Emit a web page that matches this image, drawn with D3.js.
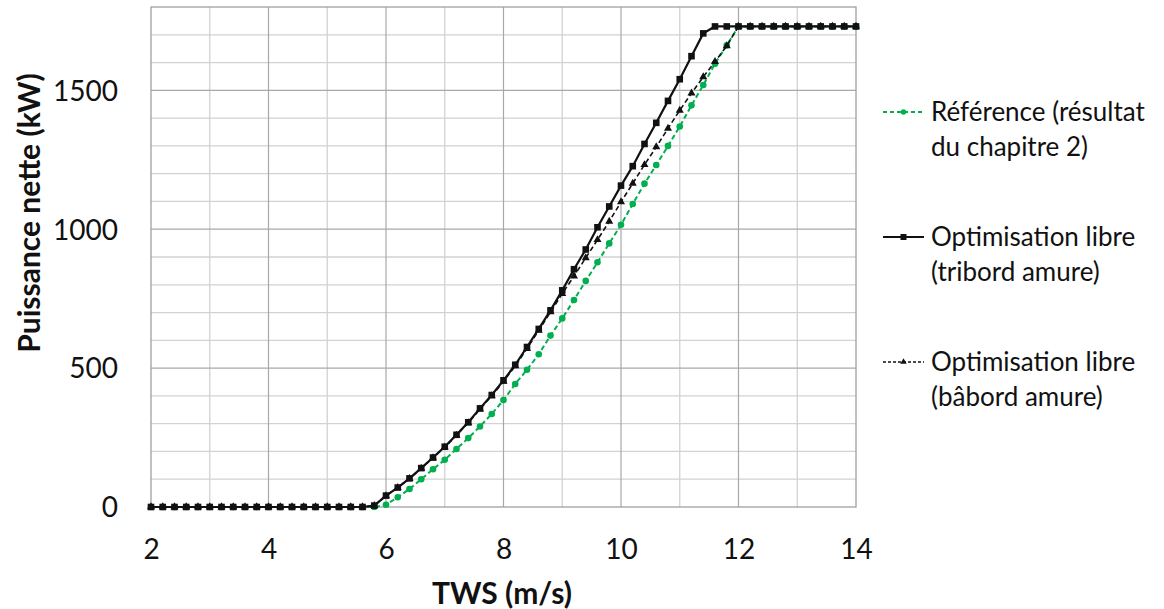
<!DOCTYPE html>
<html><head><meta charset="utf-8">
<script src="https://cdn.jsdelivr.net/npm/d3@7"></script>
<style>body{margin:0;background:#fff}svg{display:block}</style>
</head><body><svg id="c" width="1164" height="609"></svg>
<script>
const tws = [2.0,2.2,2.4,2.6,2.8,3.0,3.2,3.4,3.6,3.8,4.0,4.2,4.4,4.6,4.8,5.0,5.2,5.4,5.6,5.8,
  6.0,6.2,6.4,6.6,6.8,7.0,7.2,7.4,7.6,7.8,8.0,8.2,8.4,8.6,8.8,9.0,9.2,9.4,9.6,9.8,
  10.0,10.2,10.4,10.6,10.8,11.0,11.2,11.4,11.6,11.8,12.0,12.2,12.4,12.6,12.8,13.0,13.2,13.4,13.6,13.8,14.0];
const reference = [0,0,0,0,0,0,0,0,0,0,0,0,0,0,0,0,0,0,0,0,
  8,35,65,100,136,170,209,248,290,335,385,443,494,550,617,679,745,814,881,949,
  1016,1091,1164,1231,1300,1370,1446,1519,1596,1662,1730,1730,1730,1730,1730,1730,1730,1730,1730,1730,1730];
const tribord = [0,0,0,0,0,0,0,0,0,0,0,0,0,0,0,0,0,0,0,5,
  41,70,103,140,178,217,260,305,355,403,456,512,576,641,708,780,856,927,1007,1082,
  1157,1227,1307,1383,1462,1540,1623,1705,1730,1730,1730,1730,1730,1730,1730,1730,1730,1730,1730,1730,1730];
const babord = [0,0,0,0,0,0,0,0,0,0,0,0,0,0,0,0,0,0,0,5,
  40,70,102,139,177,215,258,303,352,400,452,508,570,636,702,768,831,897,962,1028,
  1098,1165,1232,1296,1363,1428,1490,1548,1603,1660,1730,1730,1730,1730,1730,1730,1730,1730,1730,1730,1730];
const xTicks = [2,4,6,8,10,12,14];
const yTicks = [0,500,1000,1500];
const legendLabels = [["Référence (résultat","du chapitre 2)"],["Optimisation libre","(tribord amure)"],["Optimisation libre","(bâbord amure)"]];

const svg = d3.select("#c");
const FONT = "Lato, 'Open Sans', sans-serif";
const x = d3.scaleLinear().domain([2,14]).range([151,856]);
const y = d3.scaleLinear().domain([0,1800]).range([507,7]);

// grid
const g = svg.append("g");
g.selectAll("line.mx").data(d3.range(100,1800,100).filter(v=>v%500!==0)).join("line")
  .attr("x1",x(2)).attr("x2",x(14)).attr("y1",d=>y(d)).attr("y2",d=>y(d))
  .attr("stroke","#d2d2d2").attr("stroke-width",1.3);
g.selectAll("line.mv").data(d3.range(3,14,2)).join("line")
  .attr("y1",y(0)).attr("y2",y(1800)).attr("x1",d=>x(d)).attr("x2",d=>x(d))
  .attr("stroke","#d2d2d2").attr("stroke-width",1.3);
g.selectAll("line.Mx").data([500,1000,1500]).join("line")
  .attr("x1",x(2)).attr("x2",x(14)).attr("y1",d=>y(d)).attr("y2",d=>y(d))
  .attr("stroke","#a8a8a8").attr("stroke-width",1.2);
g.selectAll("line.Mv").data([4,6,8,10,12]).join("line")
  .attr("y1",y(0)).attr("y2",y(1800)).attr("x1",d=>x(d)).attr("x2",d=>x(d))
  .attr("stroke","#a8a8a8").attr("stroke-width",1.2);
g.append("rect").attr("x",x(2)).attr("y",y(1800)).attr("width",x(14)-x(2)).attr("height",y(0)-y(1800))
  .attr("fill","none").attr("stroke","#a0a0a0").attr("stroke-width",1.3);

// axes labels
const xa = d3.axisBottom(x).tickValues(xTicks).tickSize(0).tickPadding(0).tickFormat(d3.format("d"));
svg.append("g").attr("transform",`translate(0,${y(0)})`).call(xa)
  .call(a=>a.select(".domain").remove())
  .selectAll("text").attr("y",52).attr("dy",0).attr("font-family",FONT).attr("font-size",28).attr("fill","#111");
const ya = d3.axisLeft(y).tickValues(yTicks).tickSize(0).tickPadding(0).tickFormat(d3.format("d"));
svg.append("g").attr("transform",`translate(118,0)`).call(ya)
  .call(a=>a.select(".domain").remove())
  .selectAll("text").attr("dy","0.35em").attr("font-family",FONT).attr("font-size",28).attr("fill","#111");

svg.append("text").attr("x",502).attr("y",604).attr("text-anchor","middle")
  .attr("font-family",FONT).attr("font-weight","bold").attr("font-size",30).attr("fill","#111").text("TWS (m/s)");
svg.append("text").attr("transform","translate(40,213) rotate(-90)").attr("text-anchor","middle")
  .attr("font-family",FONT).attr("font-weight","bold").attr("font-size",30).attr("fill","#111").text("Puissance nette (kW)");

const line = d3.line().x(d=>x(d[0])).y(d=>y(d[1]));
const green = "#00b050";
function pts(vals){ return tws.map((t,i)=>[t,vals[i]]); }

// reference
const pr = pts(reference);
svg.append("path").attr("d",line(pr)).attr("fill","none").attr("stroke",green).attr("stroke-width",2).attr("stroke-dasharray","5,3");
svg.append("g").selectAll("circle").data(pr).join("circle").attr("cx",d=>x(d[0])).attr("cy",d=>y(d[1])).attr("r",3.3).attr("fill",green);

// babord
const pb = pts(babord);
svg.append("path").attr("d",line(pb)).attr("fill","none").attr("stroke","#111").attr("stroke-width",1.6).attr("stroke-dasharray","5,3");
const tri = d3.symbol().type(d3.symbolTriangle).size(28);
svg.append("g").selectAll("path").data(pb).join("path").attr("d",tri)
  .attr("transform",d=>`translate(${x(d[0])},${y(d[1])})`).attr("fill","#111");

// tribord
const pt = pts(tribord);
svg.append("path").attr("d",line(pt)).attr("fill","none").attr("stroke","#111").attr("stroke-width",2.2);
svg.append("g").selectAll("rect").data(pt).join("rect").attr("x",d=>x(d[0])-3.3).attr("y",d=>y(d[1])-3.3)
  .attr("width",6.6).attr("height",6.6).attr("fill","#111");

// legend
const leg = svg.append("g");
const ly = [112,237,362];
const lstyles = [{c:green,dash:"4,3",w:2,m:"circle"},{c:"#111",dash:null,w:2,m:"square"},{c:"#111",dash:"3,2",w:1.3,m:"tri"}];
legendLabels.forEach((lab,i)=>{
  const s = lstyles[i], yy = ly[i];
  const l = leg.append("line").attr("x1",883).attr("x2",924).attr("y1",yy).attr("y2",yy).attr("stroke",s.c).attr("stroke-width",s.w);
  if(s.dash) l.attr("stroke-dasharray",s.dash);
  if(s.m==="circle") leg.append("circle").attr("cx",903.5).attr("cy",yy).attr("r",2.7).attr("fill",s.c);
  if(s.m==="square") leg.append("rect").attr("x",900.5).attr("y",yy-3).attr("width",6).attr("height",6).attr("fill",s.c);
  if(s.m==="tri") leg.append("path").attr("d",d3.symbol().type(d3.symbolTriangle).size(18)).attr("transform",`translate(903.5,${yy})`).attr("fill",s.c);
  lab.forEach((t,j)=>{
    leg.append("text").attr("x",931).attr("y",yy+9+j*34.5).attr("font-family",FONT).attr("font-size",26).attr("fill","#111").text(t);
  });
});
</script></body></html>
